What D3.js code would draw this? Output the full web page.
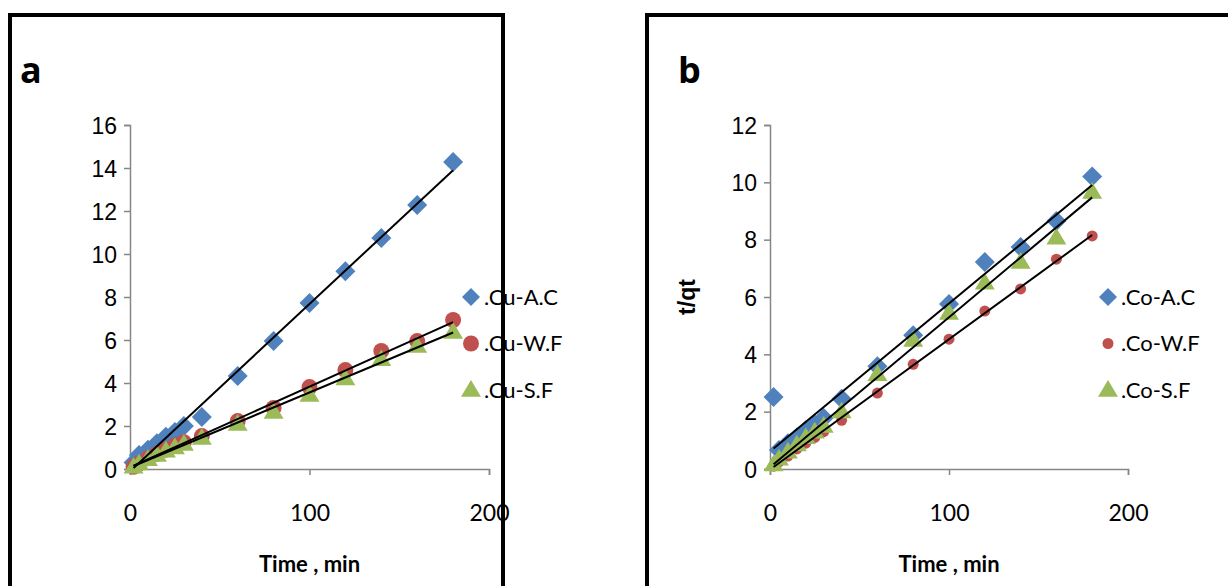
<!DOCTYPE html>
<html>
<head>
<meta charset="utf-8">
<script src="https://cdn.jsdelivr.net/npm/d3@7"></script>
<style>
  body { margin: 0; background: #fff; }
  svg { display: block; }
  .tick text { fill: #000; }
</style>
</head>
<body>
<svg width="1228" height="586"></svg>
<script>
// ---------------------------------------------------------
// Data
const times = [2, 5, 10, 15, 20, 25, 30, 40, 60, 80, 100, 120, 140, 160, 180];

const cuAC = [0.3, 0.65, 0.9, 1.2, 1.5, 1.72, 2.0, 2.42, 4.33, 5.95, 7.72, 9.2, 10.74, 12.28, 14.28];
const cuWF = [0.1, 0.25, 0.5, 0.7, 0.9, 1.1, 1.25, 1.53, 2.23, 2.84, 3.81, 4.6, 5.49, 5.95, 6.93];
const cuSF = [0.1, 0.25, 0.45, 0.65, 0.85, 1.0, 1.16, 1.44, 2.09, 2.65, 3.44, 4.2, 5.1, 5.72, 6.37];

const coAC = [2.51, 0.66, 0.9, 1.1, 1.35, 1.55, 1.78, 2.45, 3.58, 4.67, 5.76, 7.22, 7.74, 8.65, 10.2];
const coWF = [0.1, 0.25, 0.45, 0.7, 0.9, 1.1, 1.3, 1.7, 2.65, 3.65, 4.53, 5.51, 6.28, 7.32, 8.13];
const coSF = [0.15, 0.35, 0.6, 0.85, 1.1, 1.3, 1.5, 2.0, 3.3, 4.5, 5.44, 6.49, 7.22, 8.06, 9.66];

const xTicks = [0, 100, 200];
const yTicksA = [0, 2, 4, 6, 8, 10, 12, 14, 16];
const yTicksB = [0, 2, 4, 6, 8, 10, 12];

const namesA = ['.Cu-A.C', '.Cu-W.F', '.Cu-S.F'];
const namesB = ['.Co-A.C', '.Co-W.F', '.Co-S.F'];

const colors = ['#4F81BD', '#C0504D', '#9BBB59'];
const shapes = ['diamond', 'circle', 'triangle'];

const svg = d3.select('svg');

// ---------------------------------------------------------
// Marker paths
function markerPath(shape, s) {
    if (shape === 'diamond') return `M0,${-s}L${s},0L0,${s}L${-s},0Z`;
    if (shape === 'triangle') {
        const h = s * 1.75;
        return `M0,${-h * 0.6}L${s * 1.05},${h * 0.4}L${-s * 1.05},${h * 0.4}Z`;
    }
    return d3.arc()({ innerRadius: 0, outerRadius: s, startAngle: 0, endAngle: 2 * Math.PI });
}

// least squares fit for trendlines
function fit(xs, ys) {
    const mx = d3.mean(xs), my = d3.mean(ys);
    let num = 0, den = 0;
    xs.forEach((x, i) => {
        num += (x - mx) * (ys[i] - my);
        den += (x - mx) * (x - mx);
    });
    const b = num / den;
    return { b: b, a: my - b * mx };
}

function drawPanel(cfg) {
    const g = svg.append('g');

    // outer frame
    g.append('rect')
        .attr('x', cfg.frame[0])
        .attr('y', cfg.frame[1])
        .attr('width', cfg.frame[2])
        .attr('height', cfg.frame[3])
        .attr('fill', 'none')
        .attr('stroke', '#000')
        .attr('stroke-width', 4);

    g.append('text')
        .text(cfg.letter)
        .attr('x', cfg.letterX)
        .attr('y', 83)
        .style('font-family', 'Open Sans, sans-serif')
        .style('font-weight', 'bold')
        .style('font-size', '36px');

    const x = d3.scaleLinear().domain([0, 200]).range(cfg.xRange);
    const y = d3.scaleLinear().domain([0, cfg.yMax]).range([469, 125]);

    const xAxis = d3.axisBottom(x).tickValues(xTicks).tickSize(6).tickPadding(30);
    const yAxis = d3.axisLeft(y).tickValues(cfg.yTicks).tickSize(6).tickPadding(7);

    const gx = g.append('g').attr('transform', `translate(0,${y(0)})`).call(xAxis);
    const gy = g.append('g').attr('transform', `translate(${x(0)},0)`).call(yAxis);

    [gx, gy].forEach((ax) => {
        ax.select('.domain').attr('stroke', '#868686').attr('stroke-width', 1.5);
        ax.selectAll('.tick line').attr('stroke', '#868686').attr('stroke-width', 1.5);
    });
    gx.selectAll('.tick text')
        .style('font-family', 'Lato, sans-serif')
        .style('font-size', '23px');
    gy.selectAll('.tick text')
        .style('font-family', 'Liberation Sans, Arial, sans-serif')
        .style('font-size', '23px')
        .attr('dy', '0.35em');

    // axis titles
    g.append('text')
        .text('Time , min')
        .attr('x', (cfg.xRange[0] + cfg.xRange[1]) / 2)
        .attr('y', 572)
        .attr('text-anchor', 'middle')
        .style('font-family', 'Lato, sans-serif')
        .style('font-weight', 'bold')
        .style('font-size', '22px');

    if (cfg.yLabel) {
        g.append('text')
            .text('t/qt')
            .attr('transform', `translate(${cfg.yLabelX},297) rotate(-90)`)
            .attr('text-anchor', 'middle')
            .style('font-family', 'Liberation Sans, Arial, sans-serif')
            .style('font-weight', 'bold')
            .style('font-size', '23px');
    }

    // points
    cfg.series.forEach((vals, k) => {
        g.append('g')
            .selectAll('path')
            .data(vals)
            .enter()
            .append('path')
            .attr('d', markerPath(shapes[k], cfg.sizes[k]))
            .attr('transform', (d, i) => `translate(${x(times[i])},${y(d)})`)
            .attr('fill', colors[k]);
    });

    // trendlines
    cfg.series.forEach((vals) => {
        const f = fit(times, vals);
        const x0 = d3.min(times), x1 = d3.max(times);
        g.append('line')
            .attr('x1', x(x0))
            .attr('y1', y(f.a + f.b * x0))
            .attr('x2', x(x1))
            .attr('y2', y(f.a + f.b * x1))
            .attr('stroke', '#000')
            .attr('stroke-width', 2);
    });

    // legend
    cfg.names.forEach((name, k) => {
        const ly = 297 + k * 46.5;
        g.append('path')
            .attr('d', markerPath(shapes[k], cfg.legendSizes[k]))
            .attr('transform', `translate(${cfg.legendX},${ly})`)
            .attr('fill', colors[k]);
        g.append('text')
            .text(name)
            .attr('x', cfg.legendX + 13)
            .attr('y', ly)
            .attr('dy', '0.36em')
            .style('font-family', 'Lato, sans-serif')
            .style('font-size', '22px');
    });
}

drawPanel({
    frame: [10, 15, 493, 600],
    letter: 'a',
    letterX: 20,
    xRange: [130, 489],
    yMax: 16,
    yTicks: yTicksA,
    yLabel: false,
    series: [cuAC, cuWF, cuSF],
    sizes: [10, 8, 9.5],
    legendSizes: [9, 8, 9.5],
    names: namesA,
    legendX: 471
});

drawPanel({
    frame: [647, 15, 620, 600],
    letter: 'b',
    letterX: 678,
    xRange: [770, 1128],
    yMax: 12,
    yTicks: yTicksB,
    yLabel: true,
    yLabelX: 695,
    series: [coAC, coWF, coSF],
    sizes: [10, 5.5, 9.5],
    legendSizes: [9, 5.5, 9.5],
    names: namesB,
    legendX: 1108
});
</script>
</body>
</html>
